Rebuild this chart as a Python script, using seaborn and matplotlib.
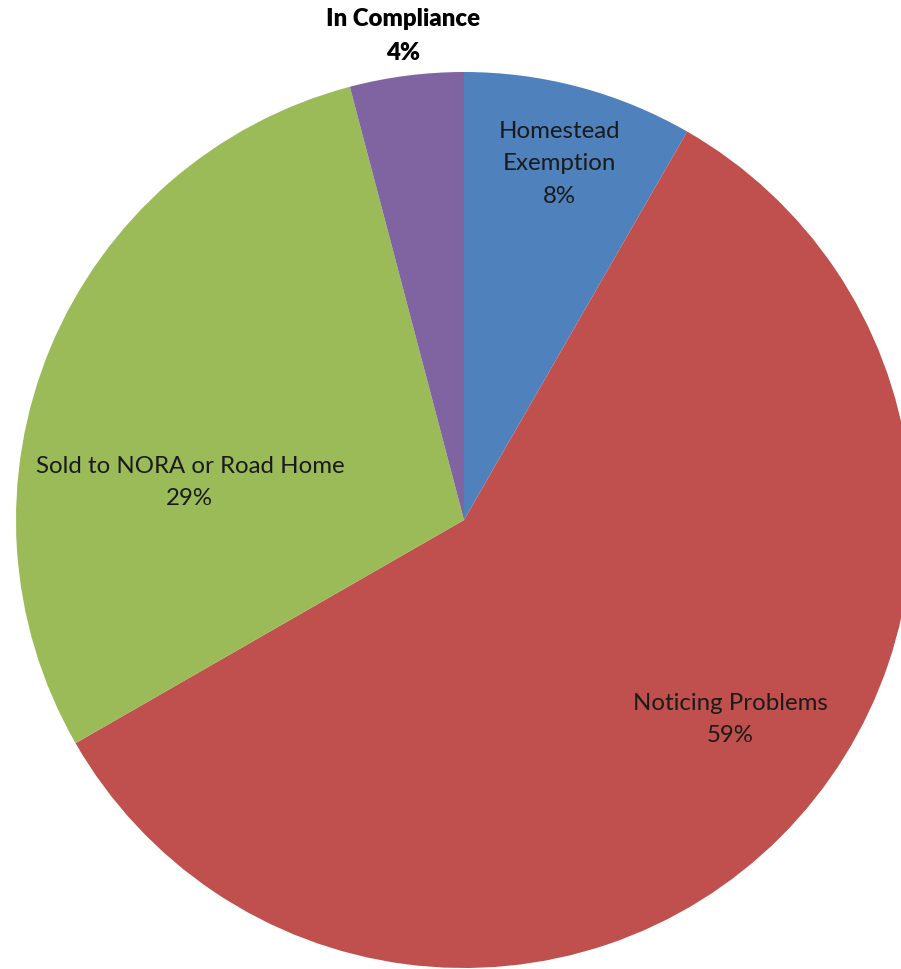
import matplotlib
matplotlib.use("Agg")
import matplotlib.pyplot as plt
import seaborn as sns

# data
categories = ["Homestead\nExemption", "Noticing Problems", "Sold to NORA or Road Home", "In Compliance"]
values = [8.3, 58.4, 29.2, 4.1]
pct_labels = ["8%", "59%", "29%", "4%"]
colors = ["#4F81BD", "#C0504D", "#9BBB59", "#8064A2"]

sns.set_theme(style="white")
plt.rcParams["font.family"] = ["Lato", "DejaVu Sans"]

fig = plt.figure(figsize=(9.01, 9.69), dpi=100)
ax = fig.add_axes([16 / 901, 1 / 969, 896 / 901, 896 / 969])

wedges, _ = ax.pie(values, colors=colors, startangle=90, counterclock=False,
                   radius=1.0, wedgeprops=dict(linewidth=0))
ax.set_xlim(-1, 1)
ax.set_ylim(-1, 1)
ax.axis("off")

# label placement (data units of the pie axes)
label_pos = [(0.214, 0.795), (0.594, -0.445), (-0.612, 0.083), (-0.136, 1.08)]
for i, (x, y) in enumerate(label_pos):
    bold = categories[i] == "In Compliance"
    ax.text(x, y, categories[i] + "\n" + pct_labels[i], ha="center", va="center",
            fontsize=17.3, linespacing=1.66, color="black" if bold else "#1a1a1a",
            fontweight="heavy" if bold else "normal", clip_on=False)

fig.savefig("out.png", dpi=100)
